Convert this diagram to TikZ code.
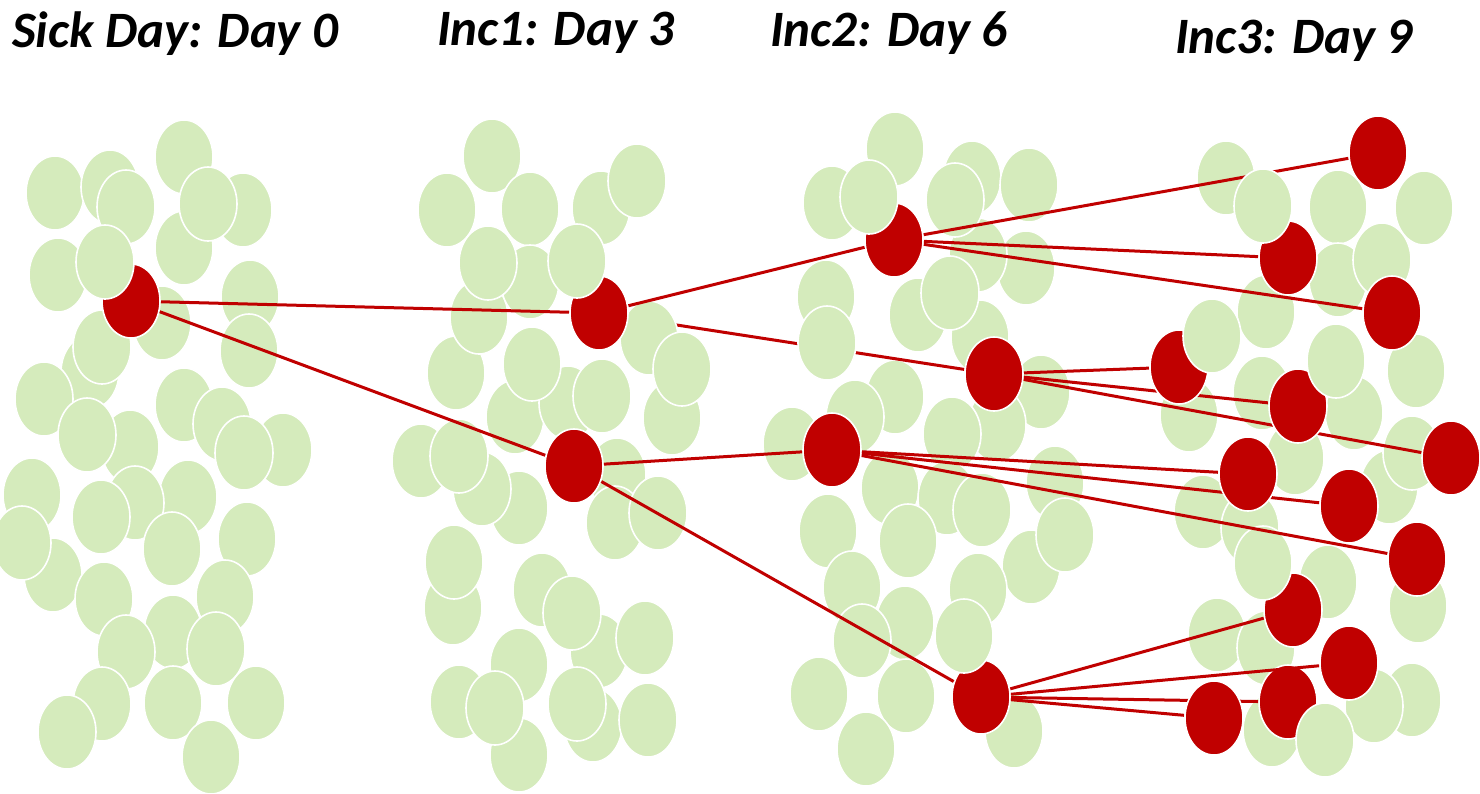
\documentclass[tikz,border=0pt]{standalone}
\usepackage{fontspec}
\setmainfont{Carlito}
\usetikzlibrary{shapes.geometric}
\definecolor{cellgreen}{RGB}{213,235,188}
\definecolor{cellred}{RGB}{192,0,0}
\tikzset{
  cell/.style={fill=cellgreen, draw=white, line width=1.6pt},
  sickcell/.style={fill=cellred, draw=white, line width=1.6pt},
  spot/.style={ellipse, minimum width=60pt, minimum height=76pt, inner sep=0pt, outer sep=0pt},
  spread/.style={draw=cellred, line width=3pt},
  heading/.style={anchor=base west, inner sep=0pt, font=\fontsize{51}{56}\selectfont\bfseries\itshape},
}
% healthy cells given as x/y centre pairs
\newcommand\healthy[1]{\foreach \x/\y in {#1} {\path[cell] (\x,\y) ellipse [x radius=29pt, y radius=37pt];}}
% infected cells given by node name
\newcommand\infected[1]{\foreach \n in {#1} {\path[sickcell] (\n.center) ellipse [x radius=29pt, y radius=37pt];}}
% transmission lines given as source/target pairs
\newcommand\spreads[1]{\foreach \s/\t in {#1} {\draw[spread] (\s) -- (\t);}}

\begin{document}
\begin{tikzpicture}[x=1pt,y=-1pt]
\useasboundingbox (0,0) rectangle (1480,793);

% positions of infected cells
\node[spot] (r0)  at (131,301) {};
\node[spot] (a1)  at (599,313) {};
\node[spot] (a2)  at (574,466) {};
\node[spot] (b1)  at (894,240) {};
\node[spot] (b2)  at (994,374) {};
\node[spot] (b3)  at (832,450) {};
\node[spot] (b4)  at (981,697) {};
\node[spot] (c1)  at (1378,153) {};
\node[spot] (c2)  at (1288,258) {};
\node[spot] (c3)  at (1392,313) {};
\node[spot] (c4)  at (1179,367) {};
\node[spot] (c5)  at (1298,406) {};
\node[spot] (c6)  at (1451,458) {};
\node[spot] (c7)  at (1248,474) {};
\node[spot] (c8)  at (1349,506) {};
\node[spot] (c9)  at (1417,559) {};
\node[spot] (c10) at (1293,610) {};
\node[spot] (c11) at (1349,663) {};
\node[spot] (c12) at (1288,702) {};
\node[spot] (c13) at (1214,718) {};

% headings
\node[heading] (t0) at (12,47)   {Sick Day: Day 0};
\node[heading] (t1) at (437,45)  {Inc1: Day 3};
\node[heading] (t2) at (770,46)  {Inc2: Day 6};
\node[heading] (t3) at (1175,53) {Inc3: Day 9};

% day 0 population
\healthy{55/193, 110/187, 126/207, 184/157, 243/210, 184/248, 208/204, 58/275,
  162/323, 250/297, 249/351, 90/372, 102/347, 44/399, 130/447, 184/405, 283/450,
  222/424, 244/453, 87/435, 32/495, 53/575, 22/543, 188/497, 135/503, 101/517,
  247/539, 172/549, 104/599, 173/632, 225/597, 126/652, 216/649, 102/704, 67/732,
  173/703, 256/703, 211/757}
% day 3 population
\healthy{492/156, 447/210, 601/208, 530/209, 637/181, 456/373, 479/317, 530/282,
  488/263, 515/417, 568/403, 532/364, 602/396, 672/418, 421/461, 519/508, 482/489,
  459/456, 617/475, 615/523, 658/513, 453/608, 454/562, 542/590, 599/651, 572/613,
  645/638, 519/665, 519/755, 459/702, 495/708, 593/725, 577/704, 648/720}
% day 6 population
\healthy{895/149, 832/203, 972/178, 1029/185, 1026/268, 978/255, 955/200, 826/297,
  918/315, 980/337, 950/293, 1041/392, 895/397, 855/417, 792/444, 997/425, 952/434,
  890/488, 947/498, 982/510, 908/541, 1055/483, 1031/567, 1065/535, 828/531,
  905/623, 852/588, 862/641, 978/590, 819/694, 906/696, 866/749, 1014/731}
% day 9 population
\healthy{1226/178, 1338/207, 1424/208, 1338/280, 1382/260, 1266/312, 1189/415,
  1262/393, 1354/413, 1416/371, 1295/458, 1389/487, 1412/453, 1203/512, 1250/528,
  1328/582, 1418/606, 1217/635, 1266/648, 1272/730, 1412/700, 1374/706}

% a line that runs beneath some cells
\spreads{a1/b2}
\healthy{649/338, 682/369, 827/343}

% infected cells
\infected{r0, a1, a2, b1, b2, b3, b4, c1, c2, c3, c6, c8, c9, c10, c11, c12}
\healthy{105/262, 577/261, 869/197, 964/636, 1263/563, 1325/740}

% remaining transmission lines
\spreads{r0/a1, r0/a2, a1/b1, a2/b3, a2/b4,
  b1/c1, b1/c2, b1/c3, b2/c4, b2/c5, b2/c6,
  b3/c7, b3/c8, b3/c9, b4/c10, b4/c11, b4/c12, b4/c13}

% cells lying over the lines
\healthy{1263/206}
\infected{c4, c5, c7, c13}
\healthy{1212/336, 1336/361}
\end{tikzpicture}
\end{document}
